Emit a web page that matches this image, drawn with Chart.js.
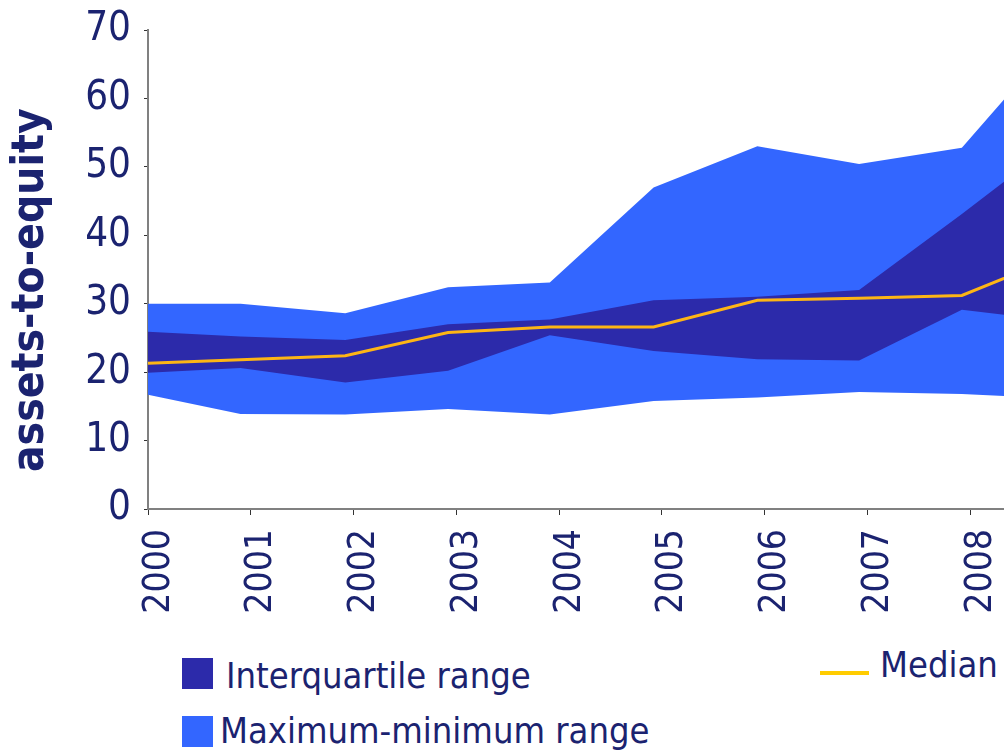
<!DOCTYPE html>
<html>
<head>
<meta charset="utf-8">
<script src="https://cdn.jsdelivr.net/npm/chart.js@4.4.1/dist/chart.umd.min.js"></script>
<style>
	body { margin: 0; background: #fff; }
	#wrap { position: relative; width: 1004px; height: 752px; overflow: hidden; font-family: 'DejaVu Sans Condensed', 'DejaVu Sans', sans-serif; font-stretch: condensed; color: #1b2370; }
	#chartBox { position: absolute; left: 0; top: 0; width: 1004px; height: 640px; }
	.box { position: absolute; width: 31px; height: 31px; }
	.txt { position: absolute; font-size: 36px; line-height: 36px; white-space: nowrap; }
	.line { position: absolute; height: 4px; width: 49px; background: #ffcc00; }
</style>
</head>
<body>
<div id="wrap">
	<div id="chartBox"><canvas id="myChart" width="1004" height="640"></canvas></div>
	<div class="box" style="left:182px; top:658px; background:#2c2aaa"></div>
	<div class="txt" style="left:226px; top:658px">Interquartile range</div>
	<div class="box" style="left:182px; top:716px; background:#3366ff"></div>
	<div class="txt" style="left:220px; top:713px">Maximum-minimum range</div>
	<div class="line" style="left:820px; top:671px"></div>
	<div class="txt" style="left:880px; top:647px">Median</div>
</div>
<script>
	// positions of the observations along the year axis
	var years = [2000, 2000.9, 2001.92, 2002.92, 2003.91, 2004.92, 2005.93, 2006.92, 2007.92, 2008.92];
	var maxVals = [30, 30, 28.6, 32.4, 33.1, 47.0, 53.0, 50.4, 52.8, 70];
	var q3Vals = [25.9, 25.2, 24.7, 27.0, 27.7, 30.5, 31.0, 32.0, 43.1, 54.6];
	var medianVals = [21.3, 21.8, 22.4, 25.8, 26.6, 26.6, 30.5, 30.8, 31.2, 37.3];
	var q1Vals = [19.9, 20.6, 18.5, 20.2, 25.4, 23.1, 21.9, 21.7, 29.1, 27.4];
	var minVals = [16.7, 13.9, 13.8, 14.6, 13.8, 15.8, 16.3, 17.1, 16.8, 16.1];
	var yTicks = [0, 10, 20, 30, 40, 50, 60, 70];

	var navy = '#1b2370';
	var fontFam = "'DejaVu Sans Condensed', 'DejaVu Sans', sans-serif";

	function pts(arr) {
		return years.map(function(x, i) {
			return { x: x, y: arr[i] };
		});
	}

	var ctx = document.getElementById('myChart').getContext('2d');
	var myChart = new Chart(ctx, {
		type: 'line',
		data: {
			datasets: [
				{
					label: 'Median',
					data: pts(medianVals),
					borderColor: '#fdb515',
					borderWidth: 3,
					fill: false,
					order: 0
				},
				{
					label: 'Interquartile range',
					data: pts(q3Vals),
					borderWidth: 0,
					backgroundColor: '#2c2aaa',
					fill: { target: 2 },
					order: 2
				},
				{
					label: 'q1',
					data: pts(q1Vals),
					borderWidth: 0,
					fill: false,
					order: 2
				},
				{
					label: 'Maximum-minimum range',
					data: pts(maxVals),
					borderWidth: 0,
					backgroundColor: '#3366ff',
					fill: { target: 4 },
					order: 4
				},
				{
					label: 'min',
					data: pts(minVals),
					borderWidth: 0,
					fill: false,
					order: 4
				}
			]
		},
		options: {
			responsive: false,
			animation: false,
			events: [],
			layout: { padding: { top: 30, right: 0, left: 0, bottom: 0 } },
			elements: { point: { radius: 0 }, line: { tension: 0 } },
			plugins: { legend: { display: false }, tooltip: { enabled: false } },
			scales: {
				x: {
					type: 'linear',
					min: 2000,
					max: 2008.33,
					afterFit: function(s) {
						s.height = 131;
						s.paddingLeft = 0;
						s.paddingRight = 0;
					},
					grid: { drawOnChartArea: false, drawTicks: true, tickLength: 6, tickColor: '#333' },
					border: { color: '#808080', width: 2 },
					ticks: {
						stepSize: 1,
						includeBounds: false,
						autoSkip: false,
						minRotation: 90,
						maxRotation: 90,
						padding: 14,
						labelOffset: 11,
						color: navy,
						font: { family: fontFam, size: 37 },
						callback: function(v) { return String(v); }
					}
				},
				y: {
					min: 0,
					max: 70,
					afterFit: function(s) {
						s.width = 148;
						s.paddingTop = 0;
						s.paddingBottom = 0;
					},
					afterBuildTicks: function(s) {
						s.ticks = yTicks.map(function(v) { return { value: v }; });
					},
					grid: { drawOnChartArea: false, drawTicks: true, tickLength: 4, tickColor: '#333' },
					border: { color: '#808080', width: 2 },
					ticks: {
						padding: 13,
						color: navy,
						font: { family: fontFam, size: 40 }
					},
					title: {
						display: true,
						text: 'assets-to-equity   ',
						color: navy,
						padding: { top: 5, bottom: 0 },
						font: { family: fontFam, size: 44, weight: 'bold' }
					}
				}
			}
		}
	});
</script>
</body>
</html>
